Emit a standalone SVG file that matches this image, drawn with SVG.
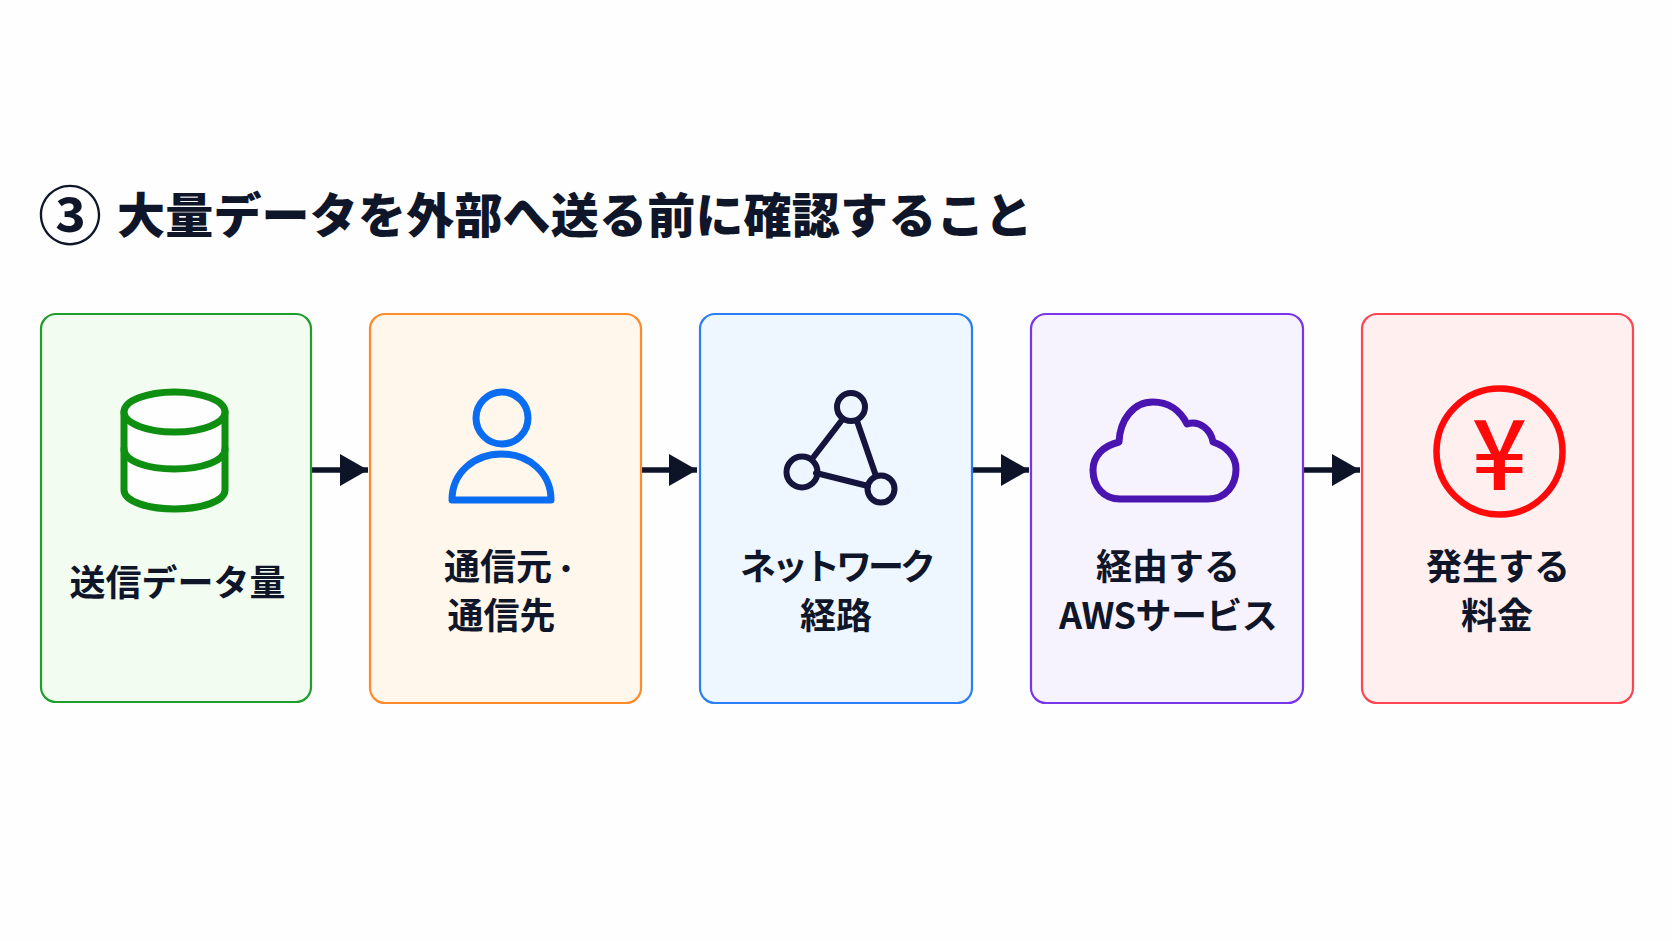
<svg xmlns="http://www.w3.org/2000/svg" width="1672" height="941" viewBox="0 0 1672 941">
<style>
text{font-family:"Noto Sans CJK JP","Noto Sans",sans-serif;fill:#0f1629}
.t{font-size:48px;font-weight:900;letter-spacing:.2px}
.l{font-size:36px;font-weight:700;text-anchor:middle}
.b{stroke-width:2.2}
.i{fill:none;stroke-width:7;stroke-linejoin:round;stroke-linecap:round}
.c{fill:none;stroke:#0d1428;stroke-width:5.5}
</style>
<defs>
<marker id="ah" markerUnits="userSpaceOnUse" markerWidth="30" markerHeight="34" refX="28" refY="16" orient="auto"><path d="M0 0L28 16L0 32Z" fill="#0d1428"/></marker>
</defs>
<rect width="1672" height="941" fill="#fefefe"/>
<g id="title">
<text x="38" y="239" style="font-size:64px;font-weight:700">③</text>
<text x="117" y="233" class="t">大量データを外部へ送る前に確認すること</text>
</g>
<g id="connectors">
<path class="c" d="M311 470H368" marker-end="url(#ah)"/>
<path class="c" d="M641 470H697" marker-end="url(#ah)"/>
<path class="c" d="M973 470H1029" marker-end="url(#ah)"/>
<path class="c" d="M1303 470H1360" marker-end="url(#ah)"/>
</g>
<g id="node1">
<rect class="b" x="41" y="314" width="270" height="388" rx="15" fill="#f2fcf0" stroke="#1f9e2e"/>
<g class="i" stroke="#0f8f12">
<path d="M124 412V490C124 501 147 509 174.500 509S225 501 225 490V412" fill="#fdfefd"/>
<path d="M124 449C124 461 147 469 174.500 469S225 461 225 449"/>
<ellipse cx="174.500" cy="412" rx="50.500" ry="20" fill="#fdfefd"/>
</g>
<text x="177.500" y="596" class="l">送信データ量</text>
</g>
<g id="node2">
<rect class="b" x="370" y="314" width="271" height="389" rx="15" fill="#fff6ec" stroke="#ff8a2a"/>
<g class="i" stroke="#0a6cf0">
<circle cx="502" cy="418" r="26"/>
<path d="M452 500C452 472 475 454 501.500 454C528 454 551 472 551 500Z"/>
</g>
<text x="444" y="580" style="font-size:36px;font-weight:700">通信元<tspan style="font-size:28px">・</tspan></text>
<text x="501.500" y="629" class="l">通信先</text>
</g>
<g id="node3">
<rect class="b" x="700" y="314" width="272" height="389" rx="15" fill="#eef6ff" stroke="#2b7ff5"/>
<g class="i" stroke="#14143c" style="stroke-width:6">
<path d="M842 420L812 459M857 421L876 476M816 473L868 486"/>
<circle cx="851" cy="407" r="14"/>
<circle cx="802" cy="472" r="15.500"/>
<circle cx="881" cy="489" r="13.500"/>
</g>
<text x="836" y="580" class="l" style="letter-spacing:-4px">ネットワーク</text>
<text x="836" y="629" class="l">経路</text>
</g>
<g id="node4">
<rect class="b" x="1031" y="314" width="272" height="389" rx="15" fill="#f6f3ff" stroke="#7a35ea"/>
<path class="i" stroke="#4a14b0" d="M1120 499H1208C1226 499 1236 485 1236 469C1236 456 1226 446 1213 442C1211 430 1200 420 1187 424C1180 410 1168 402 1153 402C1133 402 1120 420 1119 442C1103 446 1093 456 1093 470C1093 487 1104 499 1120 499Z"/>
<text x="1168" y="580" class="l">経由する</text>
<text x="1168" y="629" class="l" style="letter-spacing:-.6px">AWSサービス</text>
</g>
<g id="node5">
<rect class="b" x="1362" y="314" width="271" height="389" rx="15" fill="#ffefef" stroke="#ff4553"/>
<circle cx="1499.500" cy="451.500" r="63" fill="none" stroke="#ff0a0a" stroke-width="6.500"/>
<text x="1499.500" y="490" style="font-size:97px;font-weight:500;fill:#ff0a0a;text-anchor:middle">¥</text>
<text x="1498" y="580" class="l">発生する</text>
<text x="1497" y="629" class="l">料金</text>
</g>
</svg>
